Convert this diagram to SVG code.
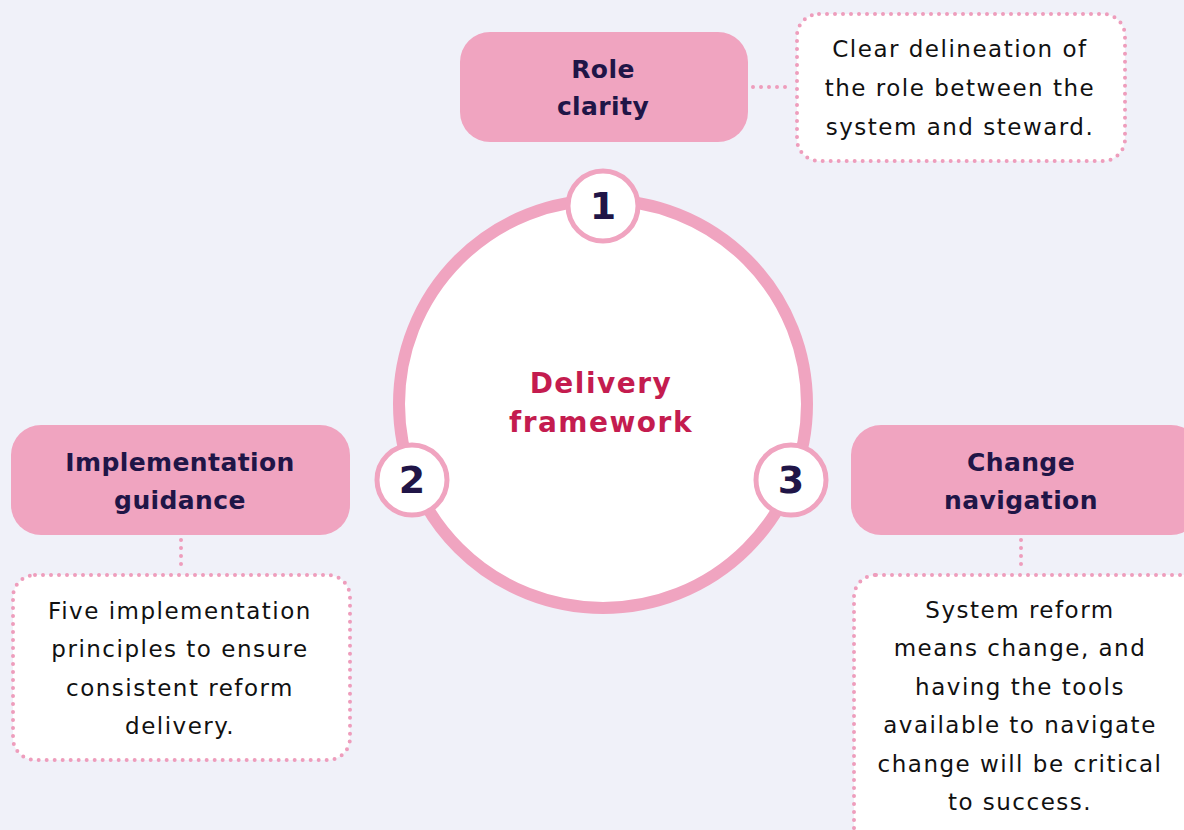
<svg xmlns="http://www.w3.org/2000/svg" width="1184" height="830" viewBox="0 0 1184 830">
<style>
.bg{fill:#f0f1f9}
.title{fill:#f0a4c0}
.desc{fill:#ffffff;stroke:#ee9dbc;stroke-width:4;stroke-dasharray:0 8;stroke-linecap:round}
.conn{fill:none;stroke:#ee9dbc;stroke-width:4;stroke-dasharray:0 8;stroke-linecap:round}
.ring{fill:#ffffff;stroke:#f0a4c0;stroke-width:12}
.num{fill:#ffffff;stroke:#f0a4c0;stroke-width:5}
.t{font-family:"DejaVu Sans","Liberation Sans",sans-serif;text-anchor:middle}
.tb{font-size:25px;font-weight:700;fill:#201547;letter-spacing:0.4px}
.td{font-size:23px;fill:#111111;letter-spacing:1.5px}
.tn{font-size:38px;font-weight:700;fill:#201547}
.tc{font-size:28px;font-weight:700;fill:#c41c4f;letter-spacing:1.5px}
</style>
<rect class="bg" x="0" y="0" width="1184" height="830"/>
<g id="connectors">
<line class="conn" x1="753" y1="87" x2="790" y2="87"/>
<line class="conn" x1="181" y1="540" x2="181" y2="572"/>
<line class="conn" x1="1021" y1="540" x2="1021" y2="572"/>
</g>
<g id="center">
<circle class="ring" cx="603" cy="404" r="204"/>
<text class="t tc" x="601" y="393">Delivery</text>
<text class="t tc" x="601" y="432">framework</text>
</g>
<g id="num1">
<circle class="num" cx="603" cy="206" r="35"/>
<text class="t tn" x="603" y="219">1</text>
</g>
<g id="num2">
<circle class="num" cx="412" cy="480" r="35"/>
<text class="t tn" x="412" y="493">2</text>
</g>
<g id="num3">
<circle class="num" cx="791" cy="480" r="35"/>
<text class="t tn" x="791" y="493">3</text>
</g>
<g id="role-clarity">
<rect class="title" x="460" y="32" width="288" height="110" rx="30"/>
<text class="t tb" x="603" y="78">Role</text>
<text class="t tb" x="603" y="115">clarity</text>
</g>
<g id="role-clarity-desc">
<rect class="desc" x="797" y="14" width="328" height="147" rx="22"/>
<text class="t td" x="960" y="57">Clear delineation of</text>
<text class="t td" x="960" y="96">the role between the</text>
<text class="t td" x="960" y="135">system and steward.</text>
</g>
<g id="implementation-guidance">
<rect class="title" x="11" y="425" width="339" height="110" rx="30"/>
<text class="t tb" x="180" y="471">Implementation</text>
<text class="t tb" x="180" y="509">guidance</text>
</g>
<g id="implementation-guidance-desc">
<rect class="desc" x="13" y="575" width="337" height="185" rx="22"/>
<text class="t td" x="180" y="619">Five implementation</text>
<text class="t td" x="180" y="657">principles to ensure</text>
<text class="t td" x="180" y="696">consistent reform</text>
<text class="t td" x="180" y="734">delivery.</text>
</g>
<g id="change-navigation">
<rect class="title" x="851" y="425" width="350" height="110" rx="30"/>
<text class="t tb" x="1021" y="471">Change</text>
<text class="t tb" x="1021" y="509">navigation</text>
</g>
<g id="change-navigation-desc">
<rect class="desc" x="854" y="575" width="350" height="290" rx="22"/>
<text class="t td" x="1020" y="618">System reform</text>
<text class="t td" x="1020" y="656">means change, and</text>
<text class="t td" x="1020" y="695">having the tools</text>
<text class="t td" x="1020" y="733">available to navigate</text>
<text class="t td" x="1020" y="772">change will be critical</text>
<text class="t td" x="1020" y="810">to success.</text>
</g>
</svg>
